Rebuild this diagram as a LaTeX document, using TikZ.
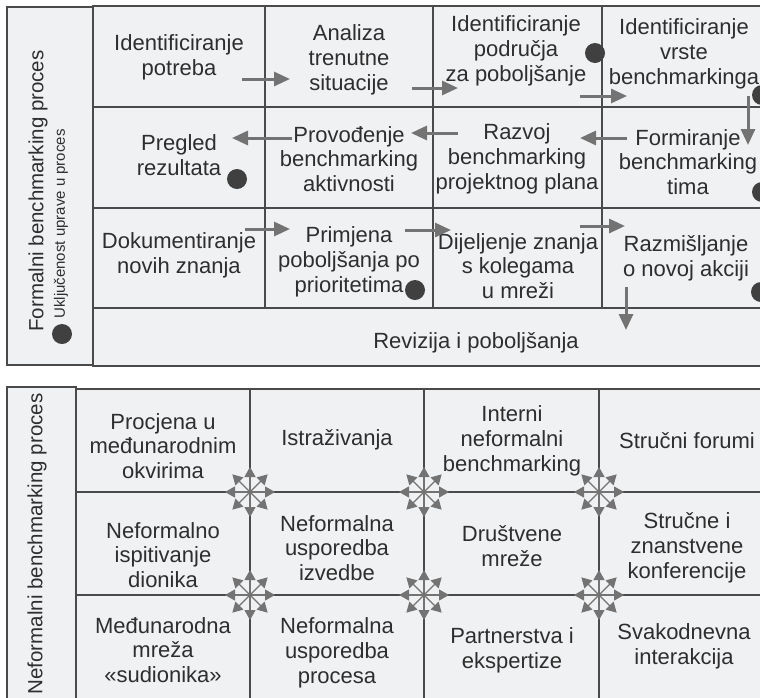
\documentclass[tikz,border=0pt]{standalone}
\usepackage{fontspec}
\setmainfont{Liberation Sans}
\usetikzlibrary{arrows.meta}
\definecolor{cellbg}{HTML}{F0F1F3}
\definecolor{gridline}{HTML}{4A4A4A}
\definecolor{flowgray}{HTML}{737373}
\definecolor{ink}{HTML}{2E2E2E}
\definecolor{dotgray}{HTML}{404040}
\begin{document}
\begin{tikzpicture}[x=1pt,y=-1pt,
  cell/.style={align=center,inner sep=0pt,text=ink,font=\fontsize{22}{24.8}\selectfont},
  sidelabel/.style={align=center,inner sep=0pt,text=ink,rotate=90,font=\fontsize{20.5}{24}\selectfont},
  flow/.style={draw=flowgray,line width=3pt,-{Triangle[length=16pt,width=14pt]}},
  marker/.style={circle,fill=dotgray,minimum size=20pt,inner sep=0pt},
  frame/.style={draw=gridline,line width=1.4pt},
  ray/.style={draw=flowgray,line width=1.2pt,-{Triangle[length=10pt,width=11pt]}},
  burst/.pic={\foreach \a in {0,45,...,315} \draw[ray] (0,0) -- (\a:25);}
]
\useasboundingbox (0,0) rectangle (760,697);
\clip (0,0) rectangle (760,697);
\fill[white] (0,0) rectangle (760,697);

% ---------- formal process ----------
\draw[frame,fill=cellbg] (7,7) rectangle (93,365);
\draw[frame,fill=cellbg] (93,6) rectangle (790,366);
\foreach \y in {107,208,308} \draw[frame] (93,\y) -- (790,\y);
\foreach \x in {265,433,602} \draw[frame] (\x,6) -- (\x,308);

\node[sidelabel] (formal) at (38,191) {Formalni benchmarking proces};
\node[sidelabel,font=\fontsize{15}{17}\selectfont] (involve) at (61,224) {Uključenost uprave u proces};
\node[marker] (legdot) at (62,334) {};

\node[cell] (f11) at (179,57) {Identificiranje\\potreba};
\node[cell] (f12) at (349,60) {Analiza\\trenutne\\situacije};
\node[cell] (f13) at (516,51) {Identificiranje\\područja\\za poboljšanje};
\node[cell] (f14) at (684,54) {Identificiranje\\vrste\\benchmarkinga};

\node[cell] (f21) at (179,155) {Pregled\\rezultata};
\node[cell] (f22) at (349,159) {Provođenje\\benchmarking\\aktivnosti};
\node[cell] (f23) at (517,159) {Razvoj\\benchmarking\\projektnog plana};
\node[cell] (f24) at (688,162) {Formiranje\\benchmarking\\tima};

\node[cell] (f31) at (179,255) {Dokumentiranje\\novih znanja};
\node[cell] (f32) at (349,262) {Primjena\\poboljšanja po\\prioritetima};
\node[cell] (f33) at (518,266) {Dijeljenje znanja\\s kolegama\\u mreži};
\node[cell] (f34) at (686,258) {Razmišljanje\\o novoj akciji};

\node[cell] (f41) at (476,343) {Revizija i poboljšanja};

% management involvement markers
\node[marker] (d13) at (595,53) {};
\node[marker] (d14) at (762,95) {};
\node[marker] (d21) at (237,179) {};
\node[marker] (d24) at (762,192) {};
\node[marker] (d32) at (415,290) {};
\node[marker] (d34) at (761,292) {};

% flow arrows
\coordinate (r1a) at (242,79);  \coordinate (r1b) at (290,79);
\coordinate (r1c) at (412,88);  \coordinate (r1d) at (458,88);
\coordinate (r1e) at (580,96);  \coordinate (r1f) at (627,96);
\coordinate (v1a) at (748,96);  \coordinate (v1b) at (748,145);
\coordinate (r2a) at (627,138); \coordinate (r2b) at (580,138);
\coordinate (r2c) at (458,133); \coordinate (r2d) at (411,133);
\coordinate (r2e) at (292,138); \coordinate (r2f) at (232,138);
\coordinate (r3a) at (245,229); \coordinate (r3b) at (290,229);
\coordinate (r3c) at (405,230); \coordinate (r3d) at (451,230);
\coordinate (r3e) at (580,226); \coordinate (r3f) at (625,226);
\coordinate (v3a) at (626,287); \coordinate (v3b) at (626,330);
\draw[flow] (r1a) -- (r1b);
\draw[flow] (r1c) -- (r1d);
\draw[flow] (r1e) -- (r1f);
\draw[flow] (v1a) -- (v1b);
\draw[flow] (r2a) -- (r2b);
\draw[flow] (r2c) -- (r2d);
\draw[flow] (r2e) -- (r2f);
\draw[flow] (r3a) -- (r3b);
\draw[flow] (r3c) -- (r3d);
\draw[flow] (r3e) -- (r3f);
\draw[flow] (v3a) -- (v3b);

% ---------- informal process ----------
\draw[frame,fill=cellbg] (7,387) rectangle (76,710);
\draw[frame,fill=cellbg] (76,389) rectangle (790,710);
\foreach \y in {492,595} \draw[frame] (76,\y) -- (790,\y);
\foreach \x in {250,424,599} \draw[frame] (\x,389) -- (\x,710);

\node[sidelabel] (informal) at (37,544) {Neformalni benchmarking proces};

\node[cell] (n11) at (163,446) {Procjena u\\međunarodnim\\okvirima};
\node[cell] (n12) at (337,440) {Istraživanja};
\node[cell] (n13) at (512,441) {Interni\\neformalni\\benchmarking};
\node[cell] (n14) at (687,441) {Stručni forumi};

\node[cell] (n21) at (163,555) {Neformalno\\ispitivanje\\dionika};
\node[cell] (n22) at (337,548) {Neformalna\\usporedba\\izvedbe};
\node[cell] (n23) at (512,546) {Društvene\\mreže};
\node[cell] (n24) at (687,548) {Stručne i\\znanstvene\\konferencije};

\node[cell] (n31) at (163,650) {Međunarodna\\mreža\\«sudionika»};
\node[cell] (n32) at (337,653) {Neformalna\\usporedba\\procesa};
\node[cell] (n33) at (512,650) {Partnerstva i\\ekspertize};
\node[cell] (n34) at (684,646) {Svakodnevna\\interakcija};

% exchange bursts at the inner grid crossings
\foreach \x in {250,424,599} \foreach \y in {492,595} \pic at (\x,\y) {burst};
\end{tikzpicture}
\end{document}
